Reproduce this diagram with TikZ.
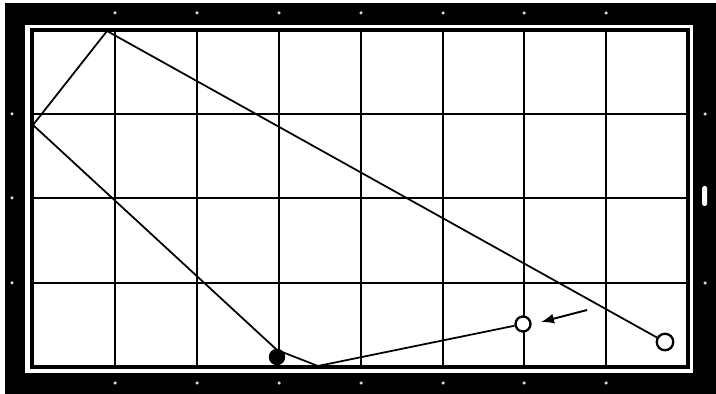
\documentclass[tikz,border=0pt]{standalone}
\usepackage{tikz}
\usetikzlibrary{positioning, calc, arrows.meta}

\begin{document}
\begin{tikzpicture}[
    x=0.02cm, y=-0.02cm,
    % Rail: black frame round the cloth
    rail/.style={fill=black, draw=none},
    % Cloth border and grid lines
    cushion/.style={draw=black, line width=2pt},
    gridline/.style={draw=black, line width=1.4pt},
    % Diamond marks on the rail
    diamond/.style={circle, fill=white!85!black, draw=none, inner sep=0pt, minimum size=0.07cm},
    % Balls
    whiteball/.style={circle, draw=black, line width=1.3pt, fill=white, inner sep=0pt, minimum size=0.33cm},
    blackball/.style={circle, fill=black, draw=none, inner sep=0pt, minimum size=0.33cm},
    % Ball path
    track/.style={draw=black, line width=1pt, line join=round},
    % Aiming arrow
    aim/.style={-{Latex[length=2.6mm, width=2mm]}, line width=1.1pt},
]

% ====================================================
% TABLE
% ====================================================
\useasboundingbox (0,0) rectangle (716,394);
\fill[white] (0,0) rectangle (716,394);
\fill[rail] (5,3) rectangle (716,394);
\fill[white] (25,25) rectangle (693,373);

% Grid: 8 x 4 cells
\foreach \gx in {115,197,279,361,443,524,606}
    \draw[gridline] (\gx,30) -- (\gx,367);
\foreach \gy in {114,198,283}
    \draw[gridline] (32,\gy) -- (688,\gy);
\draw[cushion] (32,30) rectangle (688,367);

% Diamonds
\foreach \gx in {115,197,279,361,443,524,606} {
    \node[diamond] at (\gx,13) {};
    \node[diamond] at (\gx,383) {};
}
\foreach \gy in {114,198,283}
    \node[diamond] at (12,\gy) {};
\node[diamond] at (705,114) {};
\node[diamond] at (705,283) {};
\fill[white, rounded corners=1pt] (702,186) rectangle (707,206);

% ====================================================
% BALLS AND PATH
% ====================================================
\node[whiteball] (cue) at (665,342) {};
\node[whiteball, minimum size=0.3cm] (target) at (523,324) {};
\node[blackball] (object) at (277,357) {};

% Rail contacts
\coordinate (top-hit) at (107,31);
\coordinate (left-hit) at (33,125);
\coordinate (object-hit) at (277,350);
\coordinate (bottom-hit) at (318,366);

\draw[track] (cue) -- (top-hit) -- (left-hit) -- (object-hit)
    -- (bottom-hit) -- (target);

% Arrow towards the ball
\coordinate (aim-start) at (587,310);
\coordinate (aim-end) at (541,322);
\draw[aim] (aim-start) -- (aim-end);

\end{tikzpicture}
\end{document}
